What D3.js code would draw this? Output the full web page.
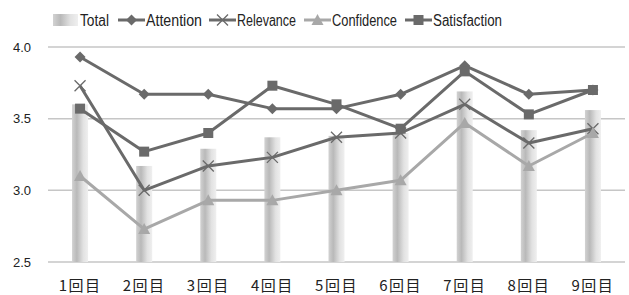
<!DOCTYPE html>
<html>
<head>
<meta charset="utf-8">
<script src="https://cdn.jsdelivr.net/npm/d3@7"></script>
<style>
  html, body { margin: 0; padding: 0; background: #fff; }
  svg { display: block; }
</style>
</head>
<body>
<svg id="chart"></svg>
<script>
// categories and series
const categories = ['1回目', '2回目', '3回目', '4回目', '5回目', '6回目', '7回目', '8回目', '9回目']
const total        = [3.60, 3.17, 3.29, 3.37, 3.38, 3.40, 3.69, 3.42, 3.56]
const attention    = [3.93, 3.67, 3.67, 3.57, 3.57, 3.67, 3.87, 3.67, 3.70]
const relevance    = [3.73, 3.00, 3.17, 3.23, 3.37, 3.40, 3.60, 3.33, 3.43]
const confidence   = [3.10, 2.73, 2.93, 2.93, 3.00, 3.07, 3.47, 3.17, 3.40]
const satisfaction = [3.57, 3.27, 3.40, 3.73, 3.60, 3.43, 3.83, 3.53, 3.70]
const yTicks = [2.5, 3.0, 3.5, 4.0]

const W = 629, H = 295
const margin = {top: 47, right: 4, bottom: 33, left: 48}

const svg = d3.select('#chart').attr('width', W).attr('height', H)

const x = d3.scaleBand()
	.domain(categories)
	.range([margin.left, W - margin.right])

const y = d3.scaleLinear()
	.domain([2.5, 4.0])
	.range([H - margin.bottom, margin.top])

// bar gradient (cylinder look)
const defs = svg.append('defs')
const grad = defs.append('linearGradient').attr('id', 'barGrad')
	.attr('x1', '0%').attr('x2', '100%').attr('y1', '0%').attr('y2', '0%')
grad.append('stop').attr('offset', '0%').attr('stop-color', '#d2d2d2')
grad.append('stop').attr('offset', '30%').attr('stop-color', '#b9b9b9')
grad.append('stop').attr('offset', '70%').attr('stop-color', '#e2e2e2')
grad.append('stop').attr('offset', '100%').attr('stop-color', '#efefef')

// grid lines
svg.append('g')
	.selectAll('line')
	.data(yTicks)
	.join('line')
		.attr('x1', margin.left).attr('x2', W - margin.right)
		.attr('y1', d => y(d)).attr('y2', d => y(d))
		.attr('stroke', '#c6c6c6')
		.attr('stroke-width', 1.5)

// y axis labels
const yAxis = svg.append('g')
	.attr('transform', 'translate(' + (margin.left - 14) + ',0)')
	.call(d3.axisLeft(y).tickValues(yTicks).tickFormat(d3.format('.1f')).tickSize(0))
yAxis.select('.domain').remove()
yAxis.selectAll('text')
	.attr('font-family', 'Liberation Sans, Arial, sans-serif')
	.attr('font-size', 13)
	.attr('fill', '#222')

// x axis labels
const xAxis = svg.append('g')
	.attr('transform', 'translate(0,' + (H - margin.bottom + 15) + ')')
	.call(d3.axisBottom(x).tickSize(0))
xAxis.select('.domain').remove()
xAxis.selectAll('text')
	.attr('font-family', 'Noto Sans CJK JP, sans-serif')
	.attr('font-size', 15)
	.attr('letter-spacing', 1.5)
	.attr('fill', '#222')

// bars
const barW = 16
svg.append('g')
	.selectAll('rect')
	.data(total)
	.join('rect')
		.attr('x', (d, i) => x(categories[i]) + x.bandwidth() / 2 - barW / 2)
		.attr('y', d => y(d))
		.attr('width', barW)
		.attr('height', d => y(2.5) - y(d))
		.attr('fill', 'url(#barGrad)')

const dark = '#6a6a6a', light = '#a8a8a8'

const series = [
	{name: 'Attention', values: attention, color: dark, marker: 'diamond'},
	{name: 'Relevance', values: relevance, color: dark, marker: 'cross'},
	{name: 'Confidence', values: confidence, color: light, marker: 'triangle'},
	{name: 'Satisfaction', values: satisfaction, color: dark, marker: 'square'}
]

function drawMarker(g, type, color) {
	if (type === 'diamond') {
		g.append('path').attr('d', 'M0,-5.5L5.5,0L0,5.5L-5.5,0Z').attr('fill', color)
	} else if (type === 'square') {
		g.append('rect').attr('x', -5).attr('y', -5).attr('width', 10).attr('height', 10).attr('fill', color)
	} else if (type === 'triangle') {
		g.append('path').attr('d', 'M0,-6L6,5L-6,5Z').attr('fill', color)
	} else if (type === 'cross') {
		g.append('path').attr('d', 'M-5.5,-5.5L5.5,5.5M-5.5,5.5L5.5,-5.5')
			.attr('stroke', color).attr('stroke-width', 1.3).attr('fill', 'none')
	}
}

const line = d3.line()
	.x((d, i) => x(categories[i]) + x.bandwidth() / 2)
	.y(d => y(d))

series.forEach(s => {
	const g = svg.append('g')
	g.append('path')
		.datum(s.values)
		.attr('d', line)
		.attr('fill', 'none')
		.attr('stroke', s.color)
		.attr('stroke-width', 3)
		.attr('stroke-linejoin', 'round')
	s.values.forEach((v, i) => {
		const m = g.append('g')
			.attr('transform', 'translate(' + (x(categories[i]) + x.bandwidth() / 2) + ',' + y(v) + ')')
		drawMarker(m, s.marker, s.color)
	})
})

// legend (text squeezed to the narrow look of the original)
const legendY = 20
const legendFont = 'Liberation Sans, Arial, sans-serif'
const leg = svg.append('g')
leg.append('rect')
	.attr('x', 53).attr('y', legendY - 6).attr('width', 25).attr('height', 12)
	.attr('fill', 'url(#barGrad)')
leg.append('text')
	.attr('x', 80).attr('y', legendY).attr('dy', '0.36em')
	.attr('font-family', legendFont).attr('font-size', 16).attr('fill', '#222')
	.attr('textLength', 29).attr('lengthAdjust', 'spacingAndGlyphs')
	.text('Total')

const legendX = [118, 209, 304, 405]
const legendLen = [56, 59, 65, 69]
series.forEach((s, i) => {
	const lx = legendX[i]
	leg.append('line')
		.attr('x1', lx).attr('x2', lx + 27)
		.attr('y1', legendY).attr('y2', legendY)
		.attr('stroke', s.color).attr('stroke-width', 3)
	const m = leg.append('g').attr('transform', 'translate(' + (lx + 13.5) + ',' + legendY + ')')
	drawMarker(m, s.marker, s.color)
	leg.append('text')
		.attr('x', lx + 28).attr('y', legendY).attr('dy', '0.36em')
		.attr('font-family', legendFont).attr('font-size', 16).attr('fill', '#222')
		.attr('textLength', legendLen[i]).attr('lengthAdjust', 'spacingAndGlyphs')
		.text(s.name)
})
</script>
</body>
</html>
